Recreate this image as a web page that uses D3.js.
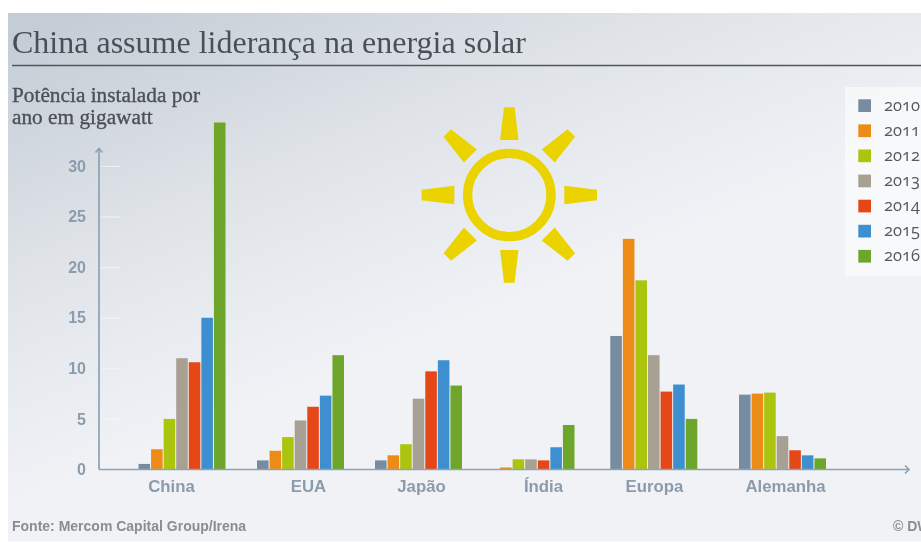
<!DOCTYPE html>
<html>
<head>
<meta charset="utf-8">
<title>China assume liderança na energia solar</title>
<script src="https://d3js.org/d3.v7.min.js"></script>
<style>
  html, body { margin: 0; padding: 0; background: #fff; overflow: hidden; }
  text { font-family: "Liberation Sans", Arial, sans-serif; }
  .serif { font-family: "Liberation Serif", "DejaVu Serif", serif; }
  .years { font-family: "Open Sans", sans-serif; font-variant-numeric: oldstyle-nums; font-feature-settings: "onum"; }
</style>
</head>
<body>
<div id="chart"></div>
<script>
var categories = ["China", "EUA", "Japão", "Índia", "Europa", "Alemanha"]
var years = ["2010", "2011", "2012", "2013", "2014", "2015", "2016"]
var yTicks = [0, 5, 10, 15, 20, 25, 30]

var china = [0.55, 2.0, 5.0, 11.0, 10.6, 15.0, 34.3]
var eua = [0.9, 1.85, 3.2, 4.85, 6.2, 7.3, 11.3]
var japao = [0.9, 1.4, 2.5, 7.0, 9.7, 10.8, 8.3]
var india = [0, 0.2, 1.0, 1.0, 0.9, 2.2, 4.4]
var europa = [13.2, 22.8, 18.7, 11.3, 7.7, 8.4, 5.0]
var alemanha = [7.4, 7.5, 7.6, 3.3, 1.9, 1.4, 1.1]
var series = [china, eua, japao, india, europa, alemanha]

var colors = ["#778c9f", "#ec8c12", "#abc40b", "#a8a093", "#e64614", "#3e8fd0", "#6da62c"]

var width = 921
var height = 542

var svg = d3.select("#chart").append("svg")
    .attr("width", width)
    .attr("height", height)
    .style("display", "block")

var defs = svg.append("defs")
var grad = defs.append("linearGradient")
    .attr("id", "bg")
    .attr("gradientUnits", "userSpaceOnUse")
    .attr("x1", 110).attr("y1", 0)
    .attr("x2", 270).attr("y2", 400)
grad.append("stop").attr("offset", "0%").attr("stop-color", "#c4cdd6")
grad.append("stop").attr("offset", "50%").attr("stop-color", "#dfe3e8")
grad.append("stop").attr("offset", "100%").attr("stop-color", "#f0f2f6")

defs.append("filter").attr("id", "soft")
    .append("feGaussianBlur").attr("stdDeviation", 0.45)

svg.append("rect")
    .attr("x", 8).attr("y", 13)
    .attr("width", width - 8).attr("height", 528.5)
    .attr("fill", "url(#bg)")

var root = svg.append("g").attr("filter", "url(#soft)")

// header
root.append("text").attr("class", "serif")
    .attr("x", 12).attr("y", 52.5)
    .attr("font-size", 32).attr("fill", "#4a5056")
    .text("China assume liderança na energia solar")
root.append("line")
    .attr("x1", 12).attr("x2", width)
    .attr("y1", 65.5).attr("y2", 65.5)
    .attr("stroke", "#50565c").attr("stroke-width", 1.5)

var unit = root.append("text").attr("class", "serif")
    .attr("font-size", 21.3).attr("fill", "#4c5157")
    .attr("stroke", "#4c5157").attr("stroke-width", 0.35)
unit.append("tspan").attr("x", 12).attr("y", 101.5).text("Potência instalada por")
unit.append("tspan").attr("x", 12).attr("y", 124).text("ano em gigawatt")

// scales
var y = d3.scaleLinear().domain([0, 30]).range([469.5, 166])
// the groups are not evenly spaced in the original
var xGroup = d3.scaleOrdinal().domain(categories).range([138.5, 257, 375, 487.5, 610.3, 739])
var xLabel = d3.scaleOrdinal().domain(categories).range([171, 308, 421, 543, 654, 785])
var xYear = d3.scaleBand().domain(years).range([0, 87]).paddingInner(0.08).paddingOuter(0)

// y axis
var yAxis = root.append("g")
    .attr("transform", "translate(99,0)")
    .call(d3.axisLeft(y).tickValues(yTicks).tickSize(-21).tickPadding(13))
yAxis.select(".domain").remove()
yAxis.selectAll(".tick line").attr("stroke", "#f6f8fa").attr("stroke-width", 1.2)
    .attr("stroke-opacity", 0.7).attr("x1", 2)
yAxis.selectAll(".tick").filter(d => d === 0).select("line").remove()
yAxis.selectAll("text")
    .attr("font-family", "Liberation Sans, Arial, sans-serif")
    .attr("font-size", 16).attr("font-weight", "bold").attr("fill", "#8b9cae")

// bars
var groups = root.append("g").selectAll("g")
    .data(categories)
    .join("g")
    .attr("transform", d => "translate(" + xGroup(d) + ",0)")

groups.selectAll("rect")
    .data((d, i) => series[i].map((v, j) => ({year: years[j], value: v, color: colors[j]})))
    .join("rect")
    .attr("x", d => xYear(d.year))
    .attr("width", xYear.bandwidth())
    .attr("y", d => y(d.value))
    .attr("height", d => y(0) - y(d.value))
    .attr("fill", d => d.color)

// axis lines with the arrow heads
var axisColor = "#8ea2b4"
root.append("path")
    .attr("d", "M99," + y(0) + "V149M95.5,152.5L99,148.5L102.5,152.5")
    .attr("fill", "none").attr("stroke", axisColor).attr("stroke-width", 1.7)
root.append("path")
    .attr("d", "M99," + y(0) + "H908.5M905,465.5L909,469.5L905,473.5")
    .attr("fill", "none").attr("stroke", axisColor).attr("stroke-width", 1.7)

// category labels
var xAxis = root.append("g")
    .attr("transform", "translate(0,491.5)")
    .call(d3.axisBottom(xLabel).tickSize(0).tickPadding(0))
xAxis.select(".domain").remove()
xAxis.selectAll("text")
    .attr("dy", 0)
    .attr("font-family", "Liberation Sans, Arial, sans-serif")
    .attr("font-size", 16.8).attr("font-weight", "bold").attr("fill", "#8c9bab")

// sun
var sun = root.append("g").attr("transform", "translate(509.3,195)")
sun.append("circle").attr("r", 41.7)
    .attr("fill", "none").attr("stroke", "#ebd300").attr("stroke-width", 9.3)
sun.selectAll("path")
    .data(d3.range(8))
    .join("path")
    .attr("d", "M-9.2,-55L-5.3,-87.7L5.3,-87.7L9.2,-55Z")
    .attr("transform", d => "rotate(" + d * 45 + ")")
    .attr("fill", "#ebd300")

// legend
root.append("rect")
    .attr("x", 845).attr("y", 87)
    .attr("width", 76).attr("height", 189)
    .attr("fill", "#fff").attr("fill-opacity", 0.55)

var yLegend = d3.scalePoint().domain(years).range([105.7, 256.3])
var legend = root.append("g").selectAll("g")
    .data(years)
    .join("g")
    .attr("transform", d => "translate(858.3," + yLegend(d) + ")")
legend.append("rect")
    .attr("y", -6.4).attr("width", 12.7).attr("height", 12.7)
    .attr("fill", (d, i) => colors[i])
legend.append("text").attr("class", "years")
    .attr("x", 25.7).attr("y", 5)
    .attr("font-size", 16.5).attr("fill", "#55585c")
    .text(d => d)

// footer
root.append("text")
    .attr("x", 12).attr("y", 531)
    .attr("font-size", 14).attr("font-weight", "bold").attr("fill", "#8a8d91")
    .text("Fonte: Mercom Capital Group/Irena")
root.append("text")
    .attr("x", 893).attr("y", 531)
    .attr("font-size", 14).attr("font-weight", "bold").attr("fill", "#8a8d91")
    .text("© DW")
</script>
</body>
</html>
